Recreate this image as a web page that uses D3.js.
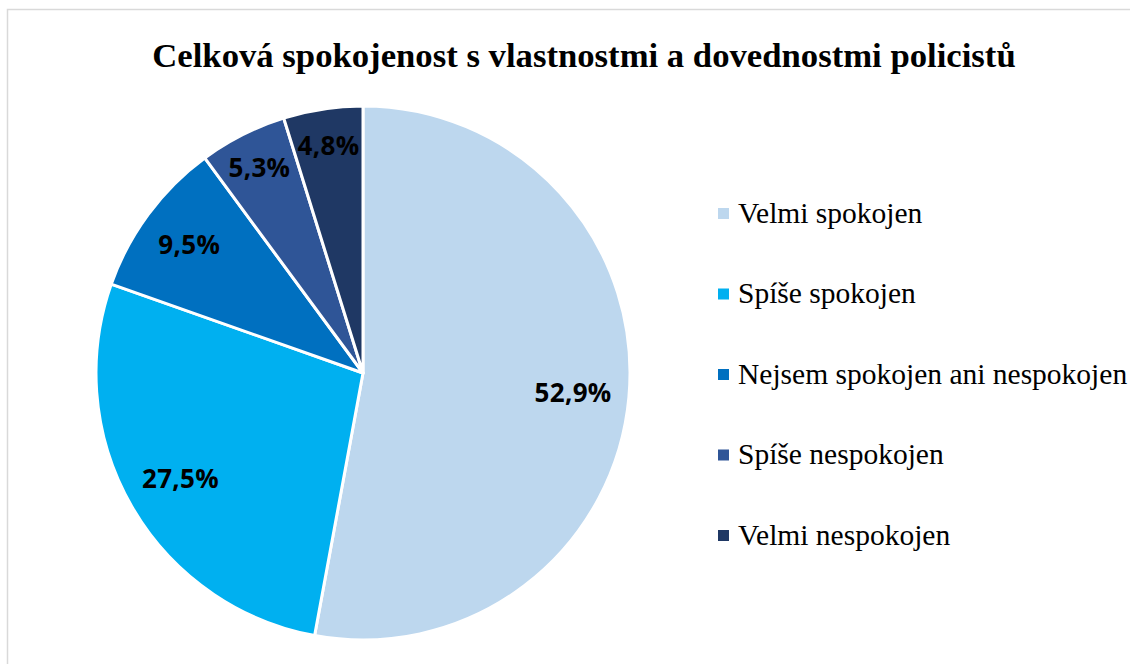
<!DOCTYPE html>
<html>
<head>
<meta charset="utf-8">
<script src="https://cdn.jsdelivr.net/npm/d3@7"></script>
<style>
  body { margin: 0; background: #fff; }
  svg { display: block; }
</style>
</head>
<body>
<svg id="chart" width="1130" height="664"></svg>
<script>
// ========== Data ==========
const categories = ['Velmi spokojen', 'Spíše spokojen', 'Nejsem spokojen ani nespokojen', 'Spíše nespokojen', 'Velmi nespokojen'];
const values = [52.9, 27.5, 9.5, 5.3, 4.8];
const colors = ['#BDD7EE', '#00B0F0', '#0070C0', '#2F5597', '#1F3864'];
const title = 'Celková spokojenost s vlastnostmi a dovednostmi policistů';

// ========== Config ==========
const config = {
  pie: { cx: 363, cy: 373, r: 267 },
  legend: { x: 718, y: 213.5, step: 80.5, box: 11 }
};

const svg = d3.select('#chart');

// chart area border
svg.append('rect')
  .attr('x', 7.5).attr('y', 9.5)
  .attr('width', 1140).attr('height', 680)
  .attr('fill', '#fff')
  .attr('stroke', '#d9d9d9')
  .attr('stroke-width', 1.5);

// ========== Title ==========
svg.append('text')
  .attr('x', 584)
  .attr('y', 67)
  .attr('text-anchor', 'middle')
  .style('font-family', '"Liberation Serif", "Times New Roman", serif')
  .style('font-weight', 'bold')
  .style('font-size', '34.7px')
  .text(title);

// ========== Pie ==========
const pie = d3.pie().sort(null).value(d => d);
const arcs = pie(values);
const arc = d3.arc().innerRadius(0).outerRadius(config.pie.r);

const g = svg.append('g')
  .attr('transform', `translate(${config.pie.cx}, ${config.pie.cy})`);

g.selectAll('path')
  .data(arcs)
  .join('path')
  .attr('d', arc)
  .attr('fill', (d, i) => colors[i])
  .attr('stroke', '#fff')
  .attr('stroke-width', 3)
  .attr('stroke-linejoin', 'round');

// labels, small slices pushed a bit further out
const labelArc = d => {
  const k = d.data < 6 ? 0.86 : (d.data < 10 ? 0.81 : 0.79);
  return d3.arc().innerRadius(config.pie.r * k).outerRadius(config.pie.r * k);
};

g.selectAll('text.lbl')
  .data(arcs)
  .join('text')
  .attr('class', 'lbl')
  .attr('transform', d => `translate(${labelArc(d).centroid(d)})`)
  .attr('text-anchor', 'middle')
  .attr('dy', '0.36em')
  .style('font-family', '"Open Sans", Lato, sans-serif')
  .style('font-weight', 'bold')
  .style('font-size', '26px')
  .style('letter-spacing', '0.3px')
  .attr('fill', '#000')
  .text(d => d3.format('.1f')(d.data).replace('.', ',') + '%');

// ========== Legend ==========
const legend = svg.append('g')
  .attr('transform', `translate(${config.legend.x}, ${config.legend.y})`);

const item = legend.selectAll('g')
  .data(categories)
  .join('g')
  .attr('transform', (d, i) => `translate(0, ${i * config.legend.step})`);

item.append('rect')
  .attr('x', 0)
  .attr('y', -config.legend.box / 2)
  .attr('width', config.legend.box)
  .attr('height', config.legend.box)
  .attr('fill', (d, i) => colors[i]);

item.append('text')
  .attr('x', 20)
  .attr('dy', '0.32em')
  .style('font-family', '"Liberation Serif", "Times New Roman", serif')
  .style('font-size', '29.5px')
  .attr('fill', '#000')
  .text(d => d);
</script>
</body>
</html>
